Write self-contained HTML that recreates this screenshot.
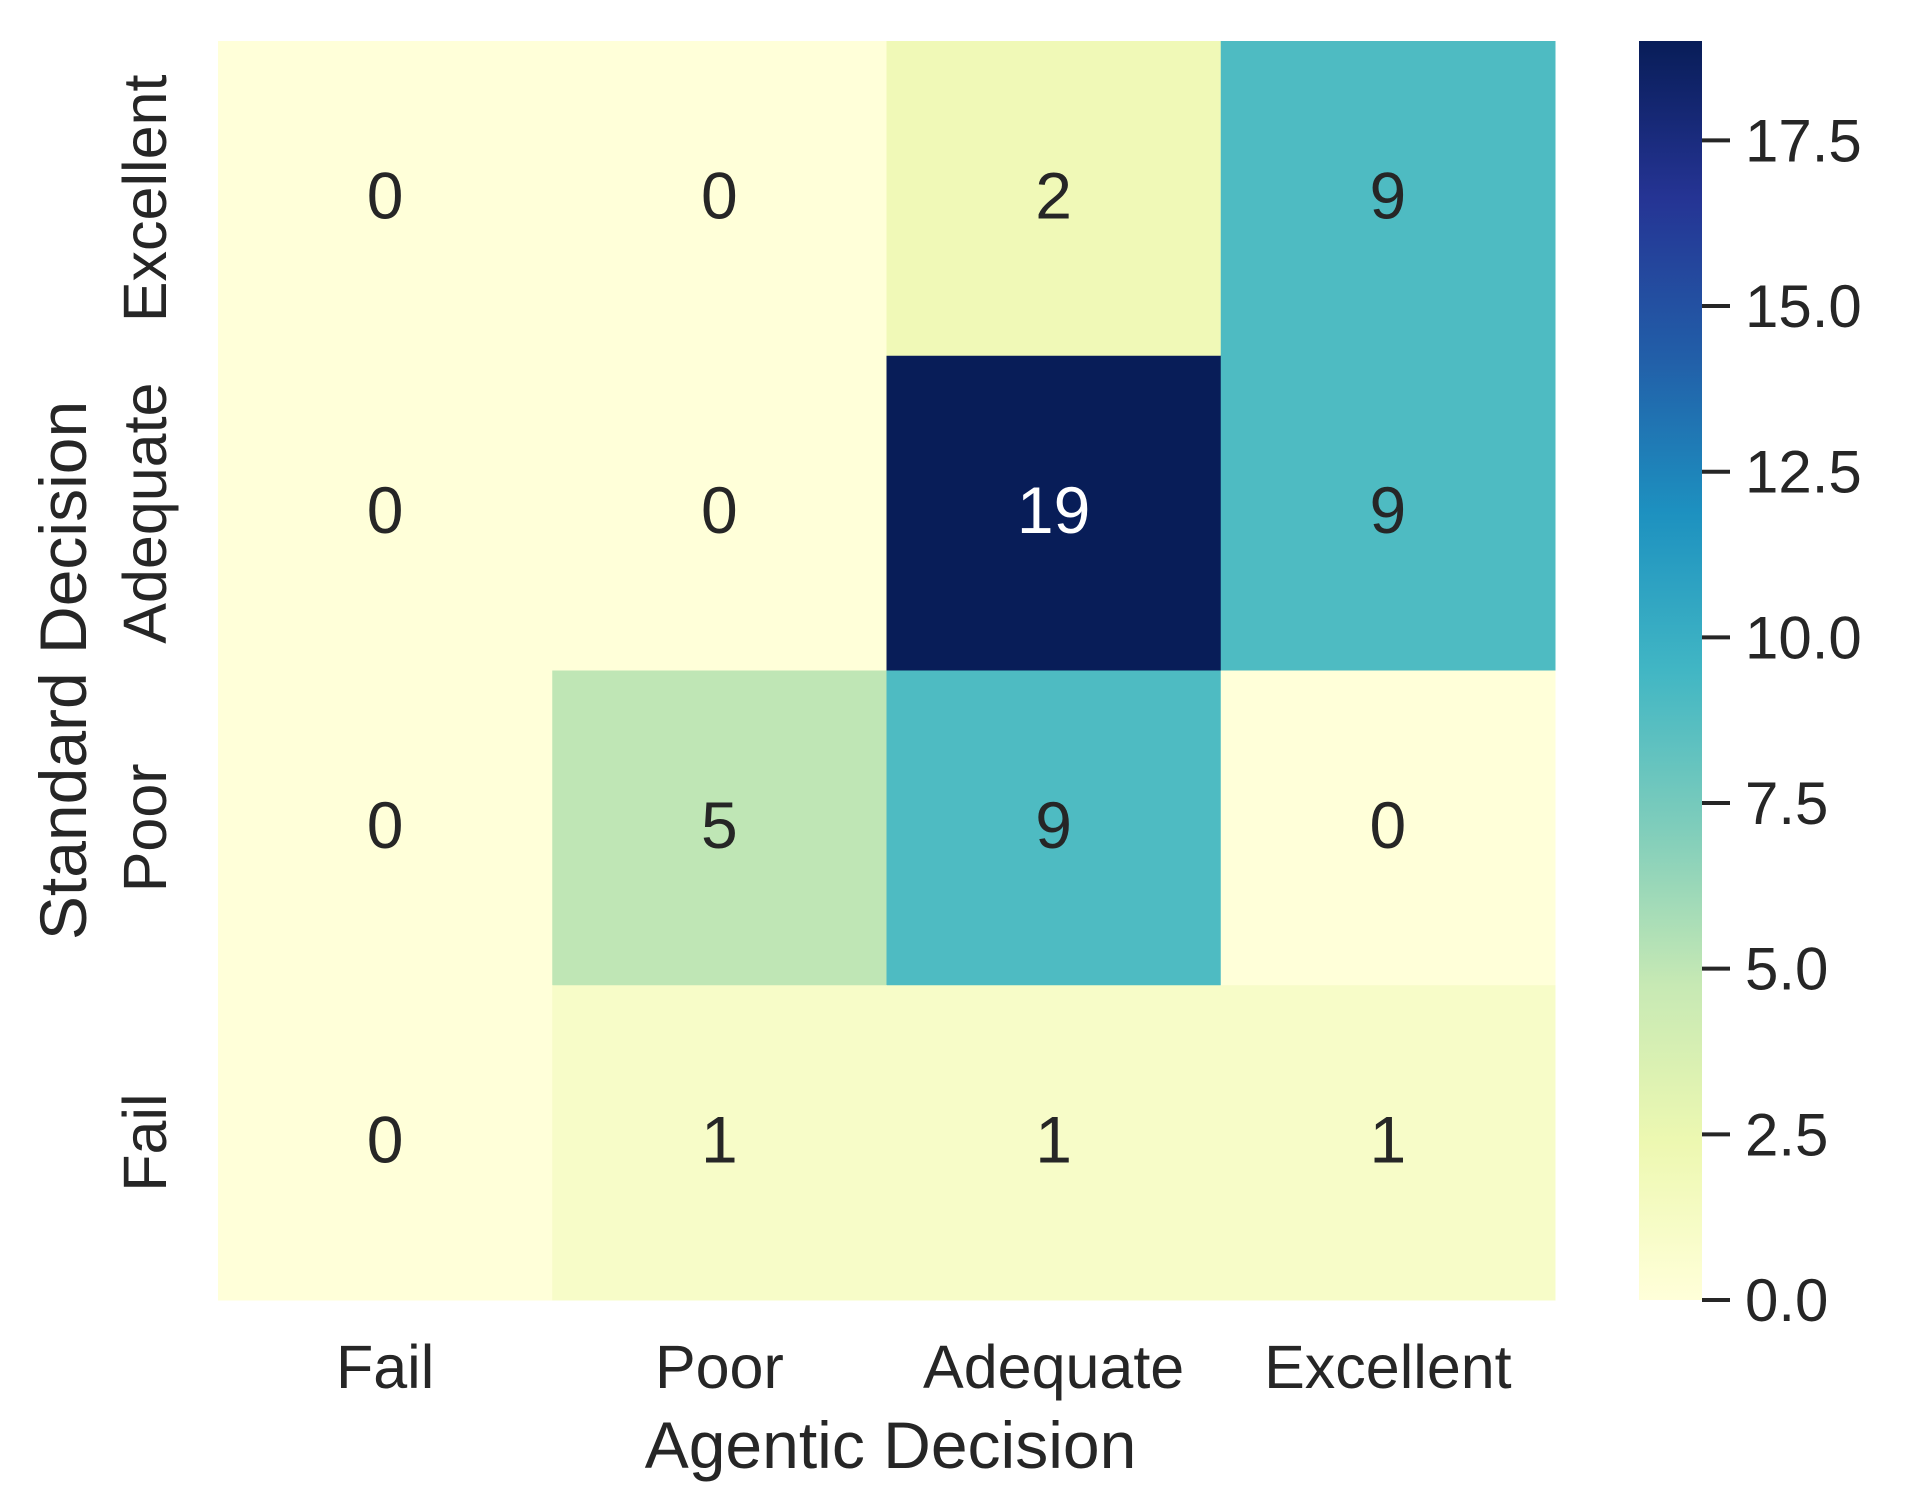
<!DOCTYPE html>
<html><head><meta charset="utf-8"><style>
body{margin:0;background:#fff}
svg text{font-family:"Liberation Sans",sans-serif;fill:#262626}
</style></head><body>
<svg id="chart" width="1915" height="1493" xmlns="http://www.w3.org/2000/svg">
<defs><linearGradient id="cbg" x1="0" y1="1" x2="0" y2="0"></linearGradient></defs>
<g id="cells"></g>
<g id="axes"></g>
</svg>
<script>
const xCategories=["Fail","Poor","Adequate","Excellent"];
const yCategories=["Excellent","Adequate","Poor","Fail"];
const rowExcellent=[0,0,2,9];
const rowAdequate=[0,0,19,9];
const rowPoor=[0,5,9,0];
const rowFail=[0,1,1,1];
const values=[rowExcellent,rowAdequate,rowPoor,rowFail];
const cbTicks=[0,2.5,5,7.5,10,12.5,15,17.5];
const vmin=0,vmax=19;
const stops=["#ffffd9","#edf8b1","#c7e9b4","#7fcdbb","#41b6c4","#1d91c0","#225ea8","#253494","#081d58"];
const NS="http://www.w3.org/2000/svg";
const L=218,R=1555,T=41,B=1300;
const cw=(R-L)/xCategories.length, ch=(B-T)/yCategories.length;
function xPos(i){return L+i*cw;}
function yPos(j){return T+j*ch;}
function hex(h){return [1,3,5].map(k=>parseInt(h.substr(k,2),16));}
function cmap(v){let t=(v-vmin)/(vmax-vmin)*(stops.length-1);let i=Math.min(Math.floor(t),stops.length-2);let f=t-i;const a=hex(stops[i]),b=hex(stops[i+1]);return "rgb("+a.map((c,k)=>Math.round(c+(b[k]-c)*f)).join(",")+")";}
function mk(tag,attrs,parent){const e=document.createElementNS(NS,tag);for(const k in attrs)e.setAttribute(k,attrs[k]);parent.appendChild(e);return e;}
const cells=document.getElementById("cells"),axes=document.getElementById("axes");
values.forEach((row,j)=>row.forEach((v,i)=>{
 const r=mk("rect",{x:xPos(i),y:yPos(j),width:cw+0.5,height:ch+0.5,fill:cmap(v)},cells);
 
 
 const t=mk("text",{x:xPos(i)+cw/2,y:yPos(j)+ch/2+20,"text-anchor":"middle","font-size":66},cells);
 
 
 if(v>12)t.style.fill="#fff";
 t.textContent=v;
}));
xCategories.forEach((c,i)=>{
 const t=mk("text",{x:xPos(i)+cw/2,y:1388,"text-anchor":"middle","font-size":61},axes);
 
 
 t.textContent=c;
});
yCategories.forEach((c,j)=>{
 const y=yPos(j)+ch/2;
 const t=mk("text",{x:0,y:0,"text-anchor":"middle","font-size":61,transform:"translate(166,"+y+") rotate(-90)"},axes);
 
 
 t.textContent=c;
});
const xt=mk("text",{x:(L+R)/2+4,y:1468,"text-anchor":"middle","font-size":66},axes);


xt.textContent="Agentic Decision";
const yt=mk("text",{x:0,y:0,"text-anchor":"middle","font-size":66,transform:"translate(86,"+((T+B)/2)+") rotate(-90)"},axes);


yt.textContent="Standard Decision";
const g=document.getElementById("cbg");
stops.forEach((s,k)=>mk("stop",{offset:k/(stops.length-1),"stop-color":s},g));
const CL=1639,CR=1702;
function cbY(v){return B-(v-vmin)/(vmax-vmin)*(B-T);}
const cb=mk("rect",{x:CL,y:T,width:CR-CL,height:B-T,fill:"url(#cbg)"},axes);


cbTicks.forEach(v=>{
 const y=cbY(v);
 const l=mk("line",{x1:CR,x2:CR+28,y1:y,y2:y,stroke:"#262626","stroke-width":4},axes);
 
 
 const t=mk("text",{x:1745,y:y+21,"font-size":60},axes);
 
 
 t.textContent=v.toFixed(1);
});
</script>
</body></html>
